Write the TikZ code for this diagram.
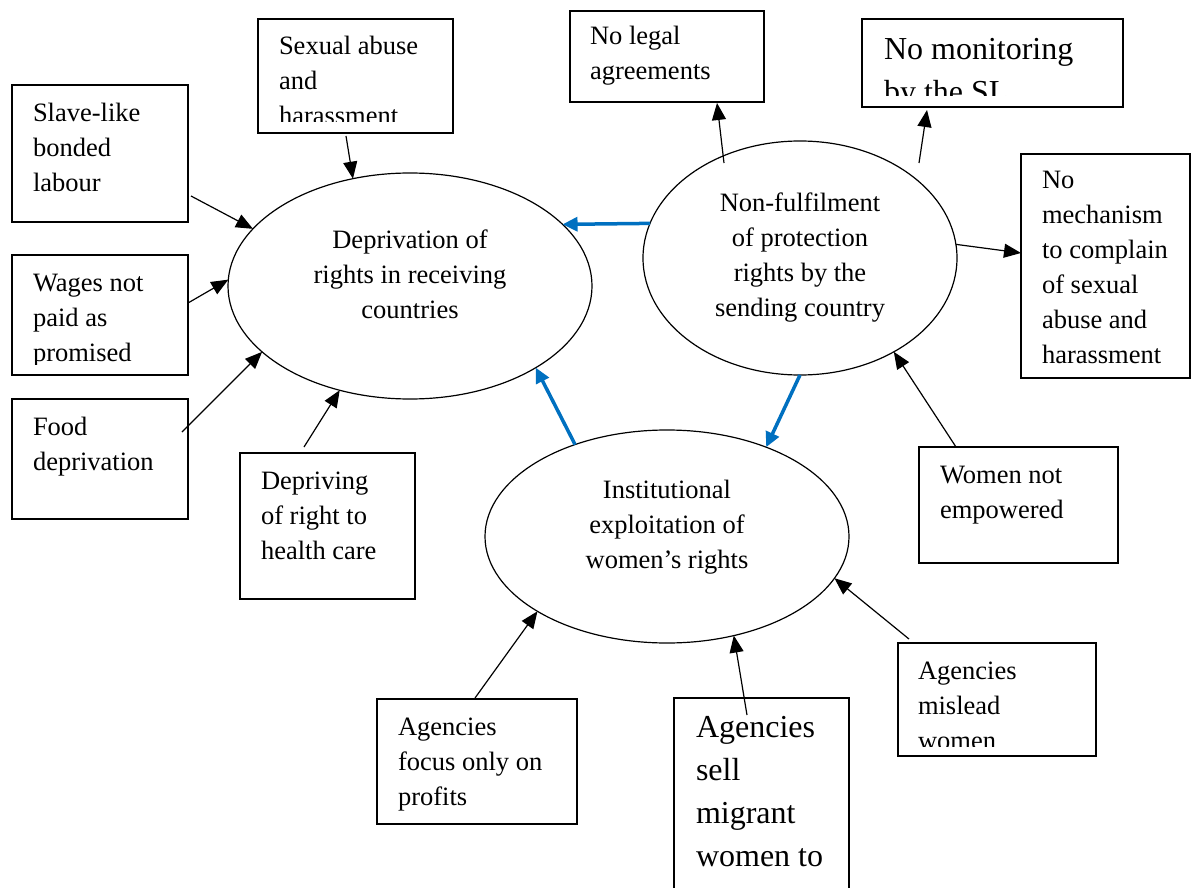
\documentclass[tikz,border=0pt]{standalone}
\usepackage{fontspec}
\setmainfont{Liberation Serif}
\usetikzlibrary{arrows.meta,shapes.geometric}
\definecolor{arrblue}{RGB}{0,112,192}
\tikzset{
  box/.style={draw, rectangle, line width=1.8pt, inner sep=0pt, outer sep=0pt, anchor=north west},
  ell/.style={draw, ellipse, line width=1.2pt, inner sep=0pt, outer sep=0pt},
  btext/.style={inner sep=0pt, outer sep=0pt, anchor=north west, align=left, font=\fontsize{26.5}{35}\selectfont},
  bigtext/.style={inner sep=0pt, outer sep=0pt, anchor=north west, align=left, font=\fontsize{32}{43}\selectfont},
  etext/.style={inner sep=0pt, outer sep=0pt, anchor=north, align=center, font=\fontsize{26.5}{35}\selectfont},
  arr/.style={line width=1.2pt, -{Triangle[length=17pt,width=14pt]}},
  barr/.style={draw=arrblue, line width=3.5pt, -{Triangle[length=15pt,width=14pt]}},
}
\begin{document}
\begin{tikzpicture}[x=1pt,y=-1pt]
\useasboundingbox (0,0) rectangle (1192,888);
\clip (0,0) rectangle (1192,888);

% ellipses
\node[ell, minimum width=364pt, minimum height=226pt] (e1) at (410,286) {};
\node[ell, minimum width=314pt, minimum height=234pt] (e2) at (800,258) {};
\node[ell, minimum width=364pt, minimum height=213pt] (e3) at (667,536.5) {};
\node[etext] (te1) at (410,223.5) {\strut Deprivation of\\rights in receiving\\countries};
\node[etext] (te2) at (800,186.5) {\strut Non-fulfilment\\of protection\\rights by the\\sending country};
\node[etext] (te3) at (667,473.5) {\strut Institutional\\exploitation of\\women’s rights};

% boxes
\node[box, minimum width=176pt, minimum height=137pt] (bslave) at (12,85) {};
\node[box, minimum width=195pt, minimum height=114pt] (bsex) at (258,19) {};
\node[box, minimum width=176pt, minimum height=120pt] (bwage) at (12,255) {};
\node[box, minimum width=176pt, minimum height=120pt] (bfood) at (12,399) {};
\node[box, minimum width=175pt, minimum height=146pt] (bdepr) at (240,453) {};
\node[box, minimum width=194pt, minimum height=91pt] (blegal) at (570,11) {};
\node[box, minimum width=261pt, minimum height=88pt] (bmonit) at (862,19) {};
\node[box, minimum width=169pt, minimum height=224pt] (bmech) at (1021,154) {};
\node[box, minimum width=199pt, minimum height=116pt] (bwomen) at (919,447) {};
\node[box, minimum width=198pt, minimum height=113pt] (bmisl) at (898,643) {};
\node[box, minimum width=200pt, minimum height=125pt] (bfocus) at (377,699) {};
\node[box, minimum width=175pt, minimum height=240pt] (bsell) at (674,698) {};

% box texts
\begin{scope}
\clip (bslave.north west) rectangle ([yshift=11pt]bslave.south east);
\node[btext] (tslave) at (33,96.5) {\strut Slave-like\\bonded\\labour};
\end{scope}
\begin{scope}
\clip (bsex.north west) rectangle ([yshift=11pt]bsex.south east);
\node[btext] (tsex) at (279,30.5) {\strut Sexual abuse\\and\\harassment};
\end{scope}
\begin{scope}
\clip (bwage.north west) rectangle ([yshift=11pt]bwage.south east);
\node[btext] (twage) at (33,266.5) {\strut Wages not\\paid as\\promised};
\end{scope}
\begin{scope}
\clip (bfood.north west) rectangle ([yshift=11pt]bfood.south east);
\node[btext] (tfood) at (33,410.5) {\strut Food\\deprivation};
\end{scope}
\begin{scope}
\clip (bdepr.north west) rectangle ([yshift=11pt]bdepr.south east);
\node[btext] (tdepr) at (261,464.5) {\strut Depriving\\of right to\\health care};
\end{scope}
\begin{scope}
\clip (blegal.north west) rectangle ([yshift=11pt]blegal.south east);
\node[btext] (tlegal) at (590,20.5) {\strut No legal\\agreements};
\end{scope}
\begin{scope}
\clip (bmonit.north west) rectangle ([yshift=11pt]bmonit.south east);
\node[bigtext] (tmonit) at (884,29.9) {\strut No monitoring\\by the SL};
\end{scope}
\begin{scope}
\clip (bmech.north west) rectangle ([yshift=11pt]bmech.south east);
\node[btext] (tmech) at (1042,163.5) {\strut No\\mechanism\\to complain\\of sexual\\abuse and\\harassment};
\end{scope}
\begin{scope}
\clip (bwomen.north west) rectangle ([yshift=11pt]bwomen.south east);
\node[btext] (twomen) at (940,458.5) {\strut Women not\\empowered};
\end{scope}
\begin{scope}
\clip (bmisl.north west) rectangle ([yshift=10pt]bmisl.south east);
\node[btext] (tmisl) at (918,654.5) {\strut Agencies\\mislead\\women};
\end{scope}
\begin{scope}
\clip (bfocus.north west) rectangle ([yshift=11pt]bfocus.south east);
\node[btext] (tfocus) at (398,710.5) {\strut Agencies\\focus only on\\profits};
\end{scope}
\node[bigtext] (tsell) at (696,706.9) {\strut Agencies\\sell\\migrant\\women to};

% connector end points
\coordinate (cslave) at (191,196);
\coordinate (csex) at (346,136);
\coordinate (cwage) at (188,303);
\coordinate (cfood) at (182,432);
\coordinate (cdepr) at (304,447);
\coordinate (clegals) at (724,163);
\coordinate (clegal) at (717,103);
\coordinate (cmonits) at (919,163);
\coordinate (cmonit) at (927,110);
\coordinate (cmech) at (1021,253);
\coordinate (cwomen) at (956,447);
\coordinate (cfocus) at (475,698);
\coordinate (csell) at (747,715);
\coordinate (cmisl) at (909,639);

% black arrows
\draw[arr] (cslave) -- (e1.160.8);
\draw[arr] (csex) -- (e1.118.8);
\draw[arr] (cwage) -- (e1.178.7);
\draw[arr] (cfood) -- (e1.204.4);
\draw[arr] (cdepr) -- (e1.236.3);
\draw[arr] (clegals) -- (clegal);
\draw[arr] (cmonits) -- (cmonit);
\draw[arr] (e2.5.1) -- (cmech);
\draw[arr] (cwomen) -- (e2.315.3);
\draw[arr] (cfocus) -- (e3.210.6);
\draw[arr] (csell) -- (e3.304.4);
\draw[arr] (cmisl) -- (e3.346.7);

% blue arrows
\draw[barr] (e2.167) -- (e1.22.2);
\draw[barr] (e2.270) -- (e3.42.4);
\draw[barr] (e3.135.2) -- (e1.327.7);
\end{tikzpicture}
\end{document}
